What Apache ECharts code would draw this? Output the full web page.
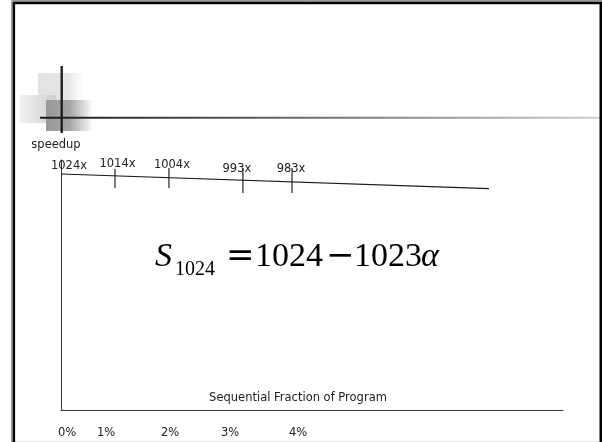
<!DOCTYPE html>
<html>
<head>
<meta charset="utf-8">
<script src="https://cdn.jsdelivr.net/npm/echarts@6/dist/echarts.min.js"></script>
<style>html,body{margin:0;padding:0;background:#fff;}#c{width:602px;height:442px;}</style>
</head>
<body>
<div id="c"></div>
<script>
// ---- data ----
var fractionLabels = ['0%', '1%', '2%', '3%', '4%'];
var tickX = [0, 1, 2, 3.37, 4.28];           // drawn positions of the tick marks (in % units)
var speedups = [1024, 1014, 1004, 993, 983];
var speedupLabels = ['1024x', '1014x', '1004x', '993x', '983x'];
var lineX = [0, 7.93];
var lineY = [1024, 943];
var yAxisName = 'speedup';
var xAxisName = 'Sequential Fraction of Program';

// ---- styling / layout ----
var labelOffsets = [[8, -8], [2.5, -11.3], [3, -13], [-6, -10.6], [-1, -12.4]];
var tickLens = [0, 19, 20, 25, 25];
var tickShift = [0, 2.7, 0.4, 0.9, -0.9];
var fracLabelX = [67, 106, 170, 230, 298];
var FONT = '"DejaVu Sans", Verdana, sans-serif';

var chart = echarts.init(document.getElementById('c'));

var labelData = tickX.map(function (x, i) {
  return {
    value: [x, speedups[i]],
    label: { show: true, position: 'inside', offset: labelOffsets[i], formatter: speedupLabels[i] }
  };
});
var tickData = [];
for (var i = 1; i < tickX.length; i++) {
  tickData.push({ value: [tickX[i], speedups[i]], symbolSize: [1.1, tickLens[i]], symbolOffset: [0, tickShift[i]] });
}

var graphics = [
  // slide frame
  { type: 'rect', z: 100, shape: { x: 11.5, y: 0.5, width: 600, height: 470 }, style: { fill: 'none', stroke: '#999', lineWidth: 1 } },
  { type: 'rect', z: 101, shape: { x: 13.8, y: 2.9, width: 587, height: 470 }, style: { fill: 'none', stroke: '#000', lineWidth: 2.6 } },
  { type: 'line', z: 100, shape: { x1: 15, y1: 441.5, x2: 599, y2: 441.5 }, style: { stroke: '#e4e4e4', lineWidth: 1 } },
  // decoration squares
  { type: 'rect', z: 1, shape: { x: 38, y: 73, width: 45, height: 30 },
    style: { fill: { type: 'linear', x: 0, y: 0, x2: 1, y2: 0, colorStops: [{ offset: 0, color: '#e2e2e2' }, { offset: 0.65, color: '#e6e6e6' }, { offset: 1, color: '#ffffff' }] } } },
  { type: 'rect', z: 2, shape: { x: 20, y: 95, width: 36, height: 28 },
    style: { fill: { type: 'linear', x: 0, y: 0, x2: 1, y2: 0, colorStops: [{ offset: 0, color: '#f2f2f2' }, { offset: 1, color: '#cfcfcf' }] } } },
  { type: 'rect', z: 3, shape: { x: 46, y: 100, width: 47, height: 31 },
    style: { fill: { type: 'linear', x: 0, y: 0, x2: 1, y2: 0, colorStops: [{ offset: 0, color: '#9a9a9a' }, { offset: 0.5, color: '#a4a4a4' }, { offset: 1, color: '#ffffff' }] } } },
  // crosshair lines
  { type: 'line', z: 5, shape: { x1: 61.7, y1: 66, x2: 61.7, y2: 133 }, style: { stroke: '#1e1e1e', lineWidth: 2.4 } },
  { type: 'line', z: 5, shape: { x1: 40, y1: 117.7, x2: 600, y2: 117.7 },
    style: { lineWidth: 2, stroke: { type: 'linear', x: 40, y: 0, x2: 600, y2: 0, global: true, colorStops: [{ offset: 0, color: '#1a1a1a' }, { offset: 0.35, color: '#555' }, { offset: 1, color: '#cfcfcf' }] } } },
  // texts
  { type: 'text', z: 10, x: 56, y: 145, style: { text: yAxisName, font: '11.5px ' + FONT, fill: '#222', align: 'center', verticalAlign: 'middle' } },
  { type: 'text', z: 10, x: 298, y: 398, style: { text: xAxisName, font: '11.5px ' + FONT, fill: '#222', align: 'center', verticalAlign: 'middle' } },
  // formula
  { type: 'text', z: 10, x: 155, y: 257.5, style: { text: 'S', font: 'italic 34px "Liberation Serif", serif', fill: '#000', verticalAlign: 'middle' } },
  { type: 'text', z: 10, x: 175, y: 270, style: { text: '1024', font: '20px "Liberation Serif", serif', fill: '#000', verticalAlign: 'middle' } },
  { type: 'text', z: 10, x: 226, y: 257.5, style: { text: '=', font: '34px "DejaVu Serif", serif', fill: '#000', verticalAlign: 'middle' } },
  { type: 'text', z: 10, x: 255, y: 257.5, style: { text: '1024', font: '34px "Liberation Serif", serif', fill: '#000', verticalAlign: 'middle' } },
  { type: 'text', z: 10, x: 326, y: 257.5, style: { text: '\u2212', font: '34px "DejaVu Serif", serif', fill: '#000', verticalAlign: 'middle' } },
  { type: 'text', z: 10, x: 354, y: 257.5, style: { text: '1023', font: '34px "Liberation Serif", serif', fill: '#000', verticalAlign: 'middle' } },
  { type: 'text', z: 10, x: 421, y: 257.5, style: { text: '\u03b1', font: 'italic 34px "Liberation Serif", serif', fill: '#000', verticalAlign: 'middle' } }
];
fractionLabels.forEach(function (t, i) {
  graphics.push({ type: 'text', z: 10, x: fracLabelX[i], y: 433, style: { text: t, font: '11.5px ' + FONT, fill: '#222', align: 'center', verticalAlign: 'middle' } });
});

chart.setOption({
  animation: false,
  backgroundColor: '#fff',
  grid: { left: 61, right: 39, top: 160, bottom: 32 },
  xAxis: {
    type: 'value', min: 0, max: 9.3,
    axisLine: { show: true, onZero: false, lineStyle: { color: '#333', width: 1 } },
    axisTick: { show: false }, axisLabel: { show: false }, splitLine: { show: false }
  },
  yAxis: {
    type: 'value', min: -278, max: 1101,
    axisLine: { show: true, lineStyle: { color: '#333', width: 1 } },
    axisTick: { show: false }, axisLabel: { show: false }, splitLine: { show: false }
  },
  series: [
    {
      type: 'line', data: lineX.map(function (x, i) { return [x, lineY[i]]; }),
      showSymbol: false, lineStyle: { color: '#1a1a1a', width: 1.1 }, silent: true
    },
    {
      type: 'scatter', data: tickData, symbol: 'rect', itemStyle: { color: '#111', opacity: 1 }, silent: true
    },
    {
      type: 'scatter', data: labelData, symbolSize: 0, silent: true, itemStyle: { opacity: 1 },
      label: { color: '#222', fontFamily: FONT, fontSize: 11.5, opacity: 1 }
    }
  ],
  graphic: graphics
});
</script>
</body>
</html>
